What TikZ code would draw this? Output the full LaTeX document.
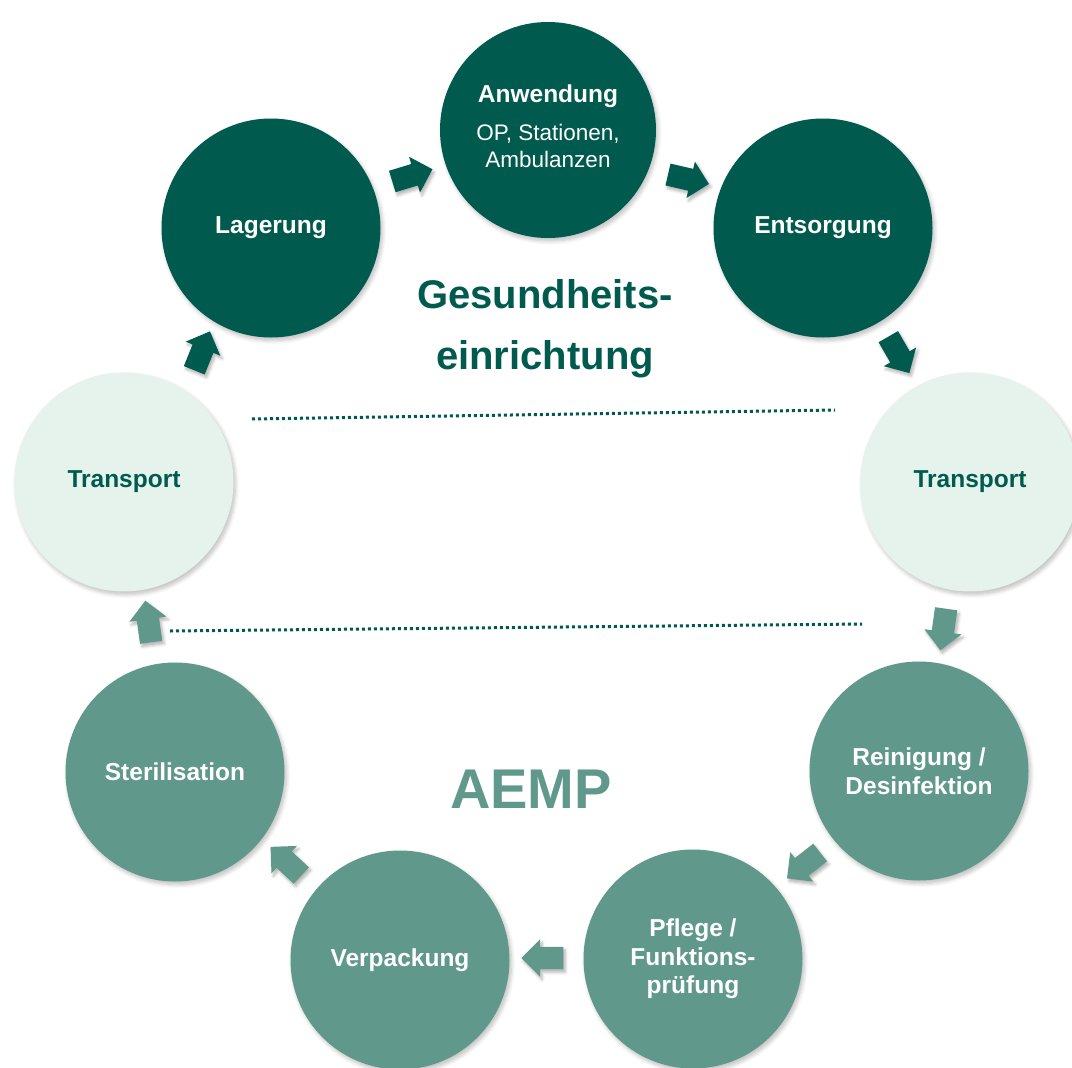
\documentclass[tikz,border=0pt]{standalone}
\usepackage{fontspec}
\setmainfont{Liberation Sans}
\usetikzlibrary{shapes.arrows,shadows.blur}
\definecolor{darkgreen}{RGB}{0,90,78}
\definecolor{midgreen}{RGB}{96,153,139}
\definecolor{palegreen}{RGB}{230,242,236}
\tikzset{
  stage/.style={circle, minimum size=219pt, inner sep=0pt, align=center,
    font=\fontsize{24.5}{28.5}\selectfont\bfseries,
    blur shadow={shadow xshift=2pt, shadow yshift=-3pt, shadow opacity=25, shadow blur steps=6, shadow blur radius=4pt}},
  darkstage/.style={stage, fill=darkgreen, text=white},
  midstage/.style={stage, fill=midgreen, text=white},
  palestage/.style={stage, fill=palegreen, text=darkgreen},
  flow/.style={single arrow, minimum height=42pt, inner xsep=0pt, inner ysep=11pt,
    text height=0pt, text depth=0pt,
    single arrow head extend=7.5pt, single arrow head indent=0pt,
    blur shadow={shadow xshift=2pt, shadow yshift=-3pt, shadow opacity=30, shadow blur steps=5, shadow blur radius=3pt}},
  darkflow/.style={flow, fill=darkgreen},
  midflow/.style={flow, fill=midgreen},
  divider/.style={draw=darkgreen, line width=3pt, dash pattern=on 3pt off 3pt},
}
\begin{document}
\begin{tikzpicture}[x=1pt, y=1pt]
\useasboundingbox (0,0) rectangle (1072,-1068);

% stages of the cycle
\node[darkstage, minimum size=216pt] (anw) at (548,-130) {};
\node[font=\fontsize{24.5}{28}\selectfont\bfseries, text=white] (anwt) at (548,-96) {Anwendung};
\node[font=\fontsize{22.5}{27}\selectfont, text=white, align=center] (anws) at (548,-146) {OP, Stationen,\\Ambulanzen};
\node[darkstage] (lag) at (271,-228) {Lagerung};
\node[darkstage] (ents) at (823,-228) {Entsorgung};
\node[palestage] (trr) at (970,-482) {Transport};
\node[palestage] (trl) at (124,-482) {Transport};
\node[midstage] (rein) at (919,-771) {Reinigung /\\Desinfektion};
\node[midstage] (pfl) at (693,-959) {Pflege /\\Funktions-\\prüfung};
\node[midstage] (verp) at (400,-960) {Verpackung};
\node[midstage] (ster) at (175,-772) {Sterilisation};

% arrows between the stages
\node[darkflow, rotate=17] (a1) at (407,-177) {};
\node[darkflow, rotate=-13] (a2) at (683,-178) {};
\node[darkflow, rotate=-60] (a3) at (896,-350) {};
\node[midflow, rotate=-98] (a4) at (944,-624) {};
\node[midflow, rotate=218] (a5) at (808,-862) {};
\node[midflow, rotate=180] (a6) at (548,-958) {};
\node[midflow, rotate=137] (a7) at (290,-865) {};
\node[midflow, rotate=98] (a8) at (149,-627) {};
\node[darkflow, rotate=68] (a9) at (200,-356) {};

% area labels
\node[font=\fontsize{40}{61}\selectfont\bfseries, text=darkgreen, align=center] (gz) at (545,-329) {Gesundheits-\\einrichtung};
\node[font=\fontsize{56}{60}\selectfont\bfseries, text=midgreen] (aemp) at (531,-789) {AEMP};

% dividers between the areas
\coordinate (d1a) at (252,-419);
\coordinate (d1b) at (835,-410);
\coordinate (d2a) at (170,-631);
\coordinate (d2b) at (862,-624);
\draw[divider] (d1a) -- (d1b);
\draw[divider] (d2a) -- (d2b);
\end{tikzpicture}
\end{document}
